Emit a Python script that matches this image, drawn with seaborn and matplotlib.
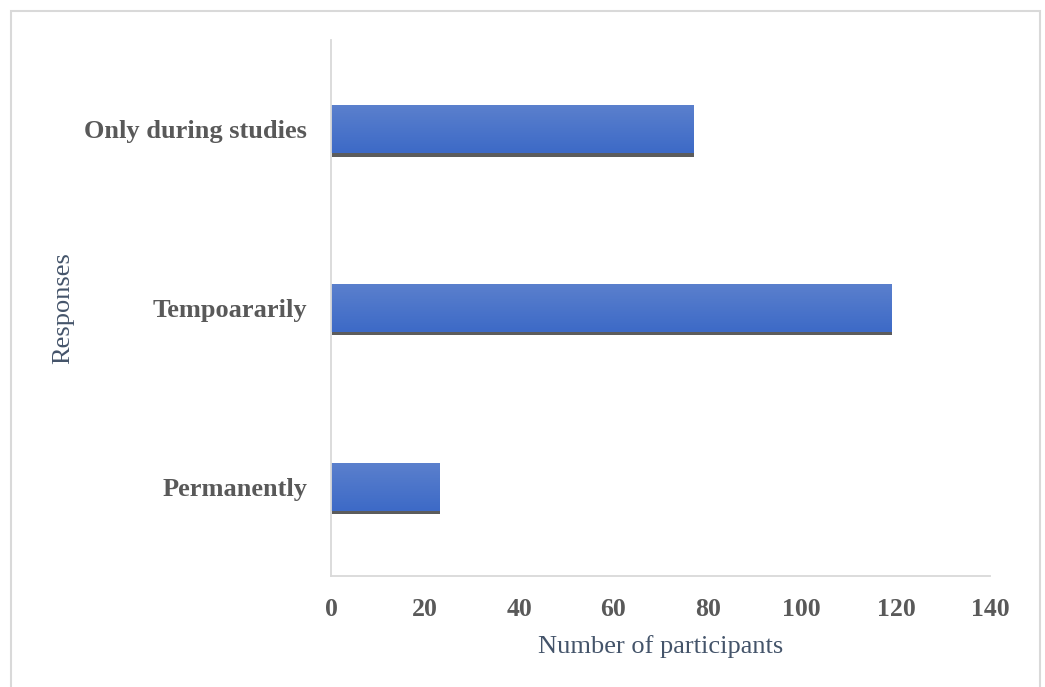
import numpy as np
import pandas as pd
import matplotlib
matplotlib.use("Agg")
import matplotlib.pyplot as plt
import matplotlib.patheffects as pe
from matplotlib.patches import Rectangle
import seaborn as sns

categories = ["Only during studies", "Tempoararily", "Permanently"]
participants = [77, 119, 23]
x_ticks = [0, 20, 40, 60, 80, 100, 120, 140]

df = pd.DataFrame({"Responses": categories, "Number of participants": participants})

sns.set_style("white")
plt.rcParams["font.family"] = ["Liberation Serif", "DejaVu Serif"]

fig = plt.figure(figsize=(10.45, 6.87), dpi=100)
ax = fig.add_axes([0.3167, 0.1616, 0.6307, 0.7802])

sns.barplot(data=df, x="Number of participants", y="Responses", orient="h",
            color="#4A75CB", width=0.27, ax=ax, saturation=1)

# Excel-like gradient fill and bottom shadow
grad = np.linspace(0, 1, 64).reshape(-1, 1)
cmap = matplotlib.colors.LinearSegmentedColormap.from_list("bar", ["#5B80CD", "#3D6AC7"])
for p in ax.patches:
    p.set_edgecolor("none")
    p.set_path_effects([pe.SimplePatchShadow(offset=(0.6, -2.4), shadow_rgbFace="#4a4a4a", alpha=0.9),
                        pe.Normal()])
    x0, y0 = p.get_x(), p.get_y()
    w, h = p.get_width(), p.get_height()
    im = ax.imshow(grad, cmap=cmap, aspect="auto", extent=(x0, x0 + w, y0 + h, y0),
                   zorder=p.get_zorder() + 0.1, interpolation="bilinear")
    im.set_clip_path(p)

ax.set_xlim(0, 140)
ax.set_ylim(2.5, -0.5)
ax.set_xticks(x_ticks)
ax.set_xticklabels([str(t) for t in x_ticks], fontsize=18.5, fontweight="bold", color="#595959")
ax.set_yticks(range(len(categories)))
ax.set_yticklabels(categories, fontsize=19, fontweight="bold", color="#595959")
ax.tick_params(axis="x", direction="out", length=7, width=1.2, color="#D9D9D9", pad=9)
ax.tick_params(axis="y", length=0, pad=17)

for s in ["top", "right"]:
    ax.spines[s].set_visible(False)
for s in ["left", "bottom"]:
    ax.spines[s].set_color("#D9D9D9")
    ax.spines[s].set_linewidth(1.3)

ax.set_xlabel("Number of participants", fontsize=19, color="#44546A", labelpad=10)
ax.set_ylabel("Responses", fontsize=19, color="#44546A", labelpad=0)
ax.yaxis.set_label_coords(-0.39, 0.5)

# outer chart border
fig.add_artist(Rectangle((11 / 1045, -0.05), (1040 - 11) / 1045, 1.05 - 11 / 687,
                         transform=fig.transFigure, fill=False, edgecolor="#D9D9D9", linewidth=1.5))

fig.savefig("out.png", dpi=100)
